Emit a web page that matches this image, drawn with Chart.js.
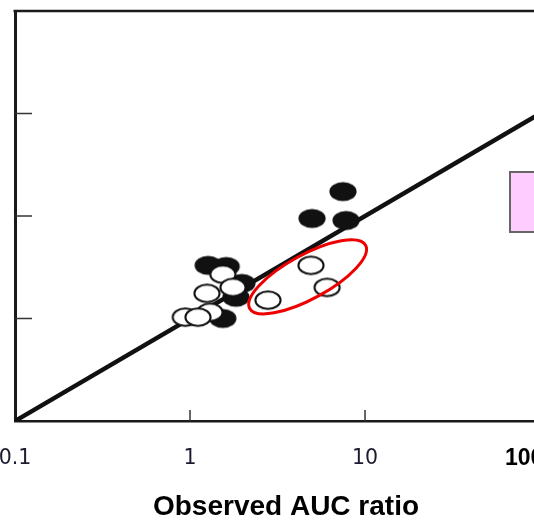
<!DOCTYPE html>
<html><head><meta charset="utf-8">
<script src="https://cdn.jsdelivr.net/npm/chart.js@4.4.1/dist/chart.umd.min.js"></script>
<style>
html,body{margin:0;padding:0;background:#fff;overflow:hidden;width:534px;height:520px;}
#wrap{position:absolute;left:-2px;top:0;width:640px;height:520px;}
canvas{display:block;}
</style></head><body>
<div id="wrap"><canvas id="c" width="640" height="520" style="width:640px;height:520px"></canvas></div>
<script>
// ---- data ----
const xTickValues = [0.1, 1, 10, 100];
const xTickLabels = ['0.1', '1', '10', '100'];
const yTickValues = [0.1, 1, 10, 100, 1000];
const filledX = [7.48, 4.98, 7.79, 1.27, 1.61, 1.98, 1.83, 1.54];
const filledY = [17.3, 9.46, 9.04, 3.30, 3.22, 2.20, 1.61, 1.00];
const openX = [4.91, 6.07, 2.79, 1.54, 1.76, 1.25, 1.30, 0.94, 1.11];
const openY = [3.30, 2.01, 1.51, 2.70, 2.01, 1.76, 1.15, 1.03, 1.03];
const identityX = [0.1, 1000];
const highlightCenter = [4.7, 2.55];

function ellipseMarker(fill, stroke, rx, ry) {
  const c = document.createElement('canvas');
  c.width = 32; c.height = 24;
  const g = c.getContext('2d');
  g.beginPath(); g.ellipse(16, 12, rx, ry, 0, 0, Math.PI * 2);
  g.fillStyle = fill; g.fill();
  if (stroke) { g.lineWidth = 2; g.strokeStyle = stroke; g.stroke(); }
  return c;
}
const blackMarker = ellipseMarker('#111', null, 13.6, 9.4);
const whiteMarker = ellipseMarker('#fff', '#111', 12.6, 8.7);

const decor = {
  id: 'decor',
  beforeDatasetsDraw(chart) {
    const {ctx, chartArea: a, scales: {x, y}} = chart;
    ctx.save();
    ctx.strokeStyle = '#1a1a1a'; ctx.lineWidth = 2.5;
    ctx.beginPath(); ctx.moveTo(a.left - 1.5, a.top); ctx.lineTo(a.right + 100, a.top); ctx.stroke();
    ctx.lineWidth = 1.5; ctx.strokeStyle = '#333';
    xTickValues.forEach(v => {
      if (v <= x.min || v >= x.max) return;
      const px = x.getPixelForValue(v);
      ctx.beginPath(); ctx.moveTo(px, a.bottom); ctx.lineTo(px, a.bottom - 11); ctx.stroke();
    });
    yTickValues.forEach(v => {
      if (v <= y.min || v >= y.max) return;
      const py = y.getPixelForValue(v);
      ctx.beginPath(); ctx.moveTo(a.left, py); ctx.lineTo(a.left + 17, py); ctx.stroke();
    });
    ctx.restore();
  },
  afterDatasetsDraw(chart) {
    const {ctx, chartArea: a, scales: {x, y}} = chart;
    ctx.save();
    const cx = x.getPixelForValue(highlightCenter[0]);
    const cy = y.getPixelForValue(highlightCenter[1]);
    ctx.beginPath();
    ctx.ellipse(cx, cy, 66, 22, -28.6 * Math.PI / 180, 0, Math.PI * 2);
    ctx.strokeStyle = '#ee0000'; ctx.lineWidth = 3; ctx.stroke();
    ctx.fillStyle = '#ffccff'; ctx.strokeStyle = '#666'; ctx.lineWidth = 2;
    ctx.fillRect(a.left + 495, 172, 80, 60); ctx.strokeRect(a.left + 495, 172, 80, 60);
    ctx.restore();
  }
};

new Chart(document.getElementById('c'), {
  type: 'scatter',
  data: {
    datasets: [
      {
        label: 'open', order: 1,
        data: openX.map((v, i) => ({x: v, y: openY[i]})),
        pointStyle: whiteMarker, pointRadius: 10, pointHoverRadius: 10
      },
      {
        label: 'filled', order: 2,
        data: filledX.map((v, i) => ({x: v, y: filledY[i]})),
        pointStyle: blackMarker, pointRadius: 10, pointHoverRadius: 10
      },
      {
        type: 'line', label: 'identity', order: 3,
        data: identityX.map(v => ({x: v, y: v})),
        borderColor: '#111', borderWidth: 4.5, pointRadius: 0, showLine: true, fill: false
      }
    ]
  },
  options: {
    responsive: false,
    animation: false,
    layout: {padding: {left: 17, top: 10, right: 81, bottom: 0}},
    plugins: {legend: {display: false}, tooltip: {enabled: false}, title: {display: false}},
    scales: {
      x: {
        type: 'logarithmic', position: 'bottom', min: 0.1, max: 125,
        afterBuildTicks: s => { s.ticks = xTickValues.map(v => ({value: v})); },
        grid: {display: true, drawOnChartArea: false, drawTicks: true, tickLength: 26,
               color: 'rgba(0,0,0,0)', tickColor: 'rgba(0,0,0,0)'},
        border: {display: true, color: '#1a1a1a', width: 2.5},
        ticks: {
          autoSkip: false, maxRotation: 0, padding: 0,
          callback: (v) => { const i = xTickValues.indexOf(v); const l = xTickLabels[i]; return l === '100' ? l + '     ' : l; },
          font: (c) => (c.tick && c.tick.value === 100)
            ? {family: 'Liberation Sans', size: 23, weight: 'bold', lineHeight: 1}
            : {family: 'DejaVu Sans', size: 20.5, lineHeight: 1.12},
          color: (c) => (c.tick && c.tick.value === 100) ? '#000' : '#1c1c30'
        },
        title: {
          display: true, text: 'Observed AUC ratio', color: '#000',
          font: {family: 'Liberation Sans', size: 28, weight: 'bold', lineHeight: 0.9},
          padding: {top: 24.8, bottom: 0}
        }
      },
      y: {
        type: 'logarithmic', position: 'left', min: 0.1, max: 1000,
        afterBuildTicks: s => { s.ticks = yTickValues.map(v => ({value: v})); },
        grid: {display: false, drawTicks: false},
        border: {display: true, color: '#1a1a1a', width: 3},
        ticks: {display: false}
      }
    }
  },
  plugins: [decor]
});
</script>
</body></html>
